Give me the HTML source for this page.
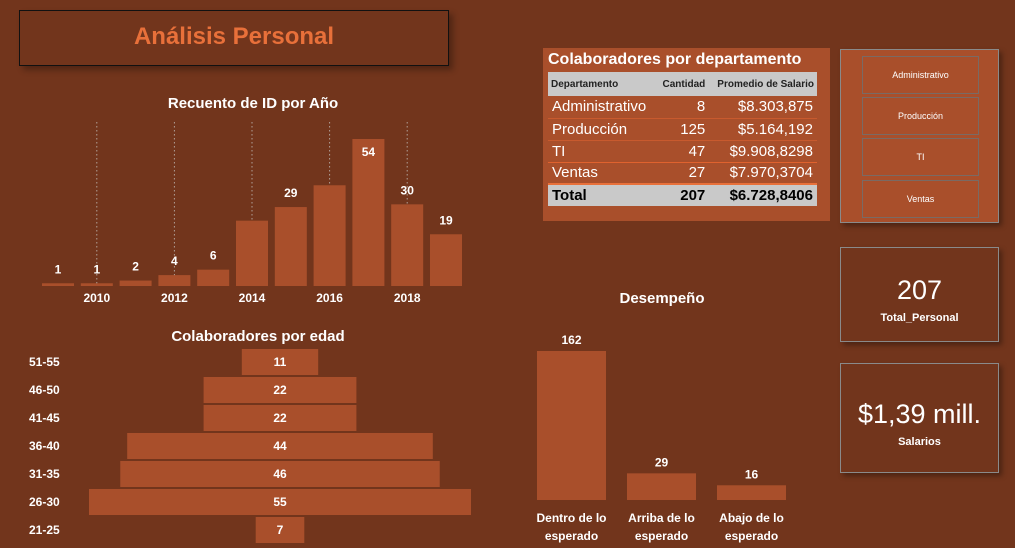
<!DOCTYPE html>
<html><head><meta charset="utf-8"><style>
body{margin:0;width:1015px;height:548px;background:#72351c;font-family:"Liberation Sans",sans-serif;color:#fff;position:relative;overflow:hidden}
.abs{position:absolute}
.card{border:1px solid #8a8a8a;box-shadow:3px 3px 5px rgba(0,0,0,.35);box-sizing:border-box}
.btn{border:1px solid #7a6a64;box-sizing:border-box}
table{border-collapse:collapse;font-size:15px}
</style></head><body>
<div class="abs" style="left:19px;top:10px;width:430px;height:56px;border:1px solid #111;box-sizing:border-box;box-shadow:4px 4px 6px rgba(0,0,0,.3);text-align:center;line-height:52px;font-size:24px;font-weight:bold;color:#e8703a">Análisis Personal</div>

<div class="abs" style="left:543px;top:48px;width:287px;height:173px;background:#a94f2b">
 <div style="font-size:16px;font-weight:bold;padding:3px 0 0 5px;height:21px">Colaboradores por departamento</div>
 <table style="margin-left:5px;width:269px">
  <tr style="background:#c9c9c9;color:#222;font-size:10px;font-weight:bold;height:24px"><td style="padding-left:3px">Departamento</td><td style="text-align:right">Cantidad</td><td style="text-align:right;padding-right:3px">Promedio de Salario</td></tr>
  <tr style="height:22px;border-bottom:1px solid #c85a2e"><td style="padding-left:4px">Administrativo</td><td style="text-align:right">8</td><td style="text-align:right;padding-right:4px">$8.303,875</td></tr>
  <tr style="height:22px;border-bottom:1px solid #c85a2e"><td style="padding-left:4px">Producción</td><td style="text-align:right">125</td><td style="text-align:right;padding-right:4px">$5.164,192</td></tr>
  <tr style="height:22px;border-bottom:1px solid #e0622e"><td style="padding-left:4px">TI</td><td style="text-align:right">47</td><td style="text-align:right;padding-right:4px">$9.908,8298</td></tr>
  <tr style="height:22px;border-bottom:2px solid #e8703a"><td style="padding-left:4px">Ventas</td><td style="text-align:right">27</td><td style="text-align:right;padding-right:4px">$7.970,3704</td></tr>
  <tr style="height:22px;background:#c9c9c9;color:#000;font-weight:bold"><td style="padding-left:4px">Total</td><td style="text-align:right">207</td><td style="text-align:right;padding-right:4px">$6.728,8406</td></tr>
 </table>
</div>

<div class="abs card" style="left:840px;top:49px;width:159px;height:174px;background:#a94f2b">
 <div class="abs btn" style="left:21px;top:6px;width:117px;height:38px;font-size:9px;text-align:center;line-height:36px">Administrativo</div>
 <div class="abs btn" style="left:21px;top:47px;width:117px;height:38px;font-size:9px;text-align:center;line-height:36px">Producción</div>
 <div class="abs btn" style="left:21px;top:88px;width:117px;height:38px;font-size:9px;text-align:center;line-height:36px">TI</div>
 <div class="abs btn" style="left:21px;top:130px;width:117px;height:38px;font-size:9px;text-align:center;line-height:36px">Ventas</div>
</div>

<div class="abs card" style="left:840px;top:247px;width:159px;height:95px;text-align:center">
 <div style="font-size:27px;margin-top:27px">207</div>
 <div style="font-size:11px;font-weight:bold;margin-top:6px">Total_Personal</div>
</div>
<div class="abs card" style="left:840px;top:363px;width:159px;height:110px;text-align:center">
 <div style="font-size:27px;margin-top:35px">$1,39 mill.</div>
 <div style="font-size:11px;font-weight:bold;margin-top:6px">Salarios</div>
</div>

<svg class="abs" style="left:0;top:0" width="1015" height="548" font-family="Liberation Sans, sans-serif" fill="#fff">
 <text x="253" y="108" text-anchor="middle" font-size="15" font-weight="bold">Recuento de ID por Año</text>
 <g id="yearChart"></g>
 <text x="258" y="341" text-anchor="middle" font-size="15" font-weight="bold">Colaboradores por edad</text>
 <g id="ageChart"></g>
 <text x="662" y="303" text-anchor="middle" font-size="15" font-weight="bold">Desempeño</text>
 <g id="perfChart"></g>
</svg>

<script>
const years=[2009,2010,2011,2012,2013,2014,2015,2016,2017,2018,2019];
const yearCounts=[1,1,2,4,6,24,29,37,54,30,19];
const yearLabels=["1","1","2","4","6","","29","","54","30","19"];
const ageGroups=["51-55","46-50","41-45","36-40","31-35","26-30","21-25"];
const ageCounts=[11,22,22,44,46,55,7];
const perfCats=[["Dentro de lo","esperado"],["Arriba de lo","esperado"],["Abajo de lo","esperado"]];
const perfCounts=[162,29,16];

const NS="http://www.w3.org/2000/svg";
function mk(tag,attrs,parent,txt){const e=document.createElementNS(NS,tag);for(const k in attrs)e.setAttribute(k,attrs[k]);if(txt!==undefined)e.textContent=txt;parent.appendChild(e);return e;}
const BAR="#a94f2b";

(function(){
 const g=document.getElementById('yearChart');
 const base=286,x0=58,step=38.8,bw=32;
 const yS=v=>v*147/54;
 const xS=i=>x0+i*step;
 years.forEach((yr,i)=>{
  if(yr%2===0){
   const gl=mk('line',{x1:xS(i),x2:xS(i),y1:122,y2:base,stroke:'#b0a098','stroke-dasharray':'1.5,2.5','stroke-width':1},g);
   
   
   const t=mk('text',{x:xS(i),y:302,'text-anchor':'middle','font-size':12,'font-weight':'bold'},g,String(yr));
   
   
  }
 });
 years.forEach((yr,i)=>{
  const h=yS(yearCounts[i]);
  const r=mk('rect',{x:xS(i)-bw/2,y:base-h,width:bw,height:h,fill:BAR},g);
  
  
  if(yearLabels[i]){
   const inside=h>120;
   const t=mk('text',{x:xS(i),y:inside?base-h+17:base-h-10,'text-anchor':'middle','font-size':12,'font-weight':'bold'},g,yearLabels[i]);
   
   
  }
 });
})();

(function(){
 const g=document.getElementById('ageChart');
 const cx=280,y0=349,step=28,bh=26;
 const wS=v=>v*382/55;
 ageGroups.forEach((a,i)=>{
  const w=wS(ageCounts[i]),y=y0+i*step;
  const r=mk('rect',{x:cx-w/2,y:y,width:w,height:bh,fill:BAR},g);
  
  
  const t=mk('text',{x:cx,y:y+17,'text-anchor':'middle','font-size':12,'font-weight':'bold'},g,String(ageCounts[i]));
  
  
  const l=mk('text',{x:29,y:y+17,'font-size':12,'font-weight':'bold'},g,a);
  
  
 });
})();

(function(){
 const g=document.getElementById('perfChart');
 const base=500,x0=571.5,step=90,bw=69;
 const yS=v=>v*149/162;
 perfCounts.forEach((v,i)=>{
  const h=yS(v),cx=x0+i*step;
  const r=mk('rect',{x:cx-bw/2,y:base-h,width:bw,height:h,fill:BAR},g);
  
  
  const t=mk('text',{x:cx,y:base-h-7,'text-anchor':'middle','font-size':12,'font-weight':'bold'},g,String(v));
  
  
  perfCats[i].forEach((line,j)=>{
   const c=mk('text',{x:cx,y:522+j*18,'text-anchor':'middle','font-size':12,'font-weight':'bold'},g,line);
   
   
  });
 });
})();
</script>
</body></html>
